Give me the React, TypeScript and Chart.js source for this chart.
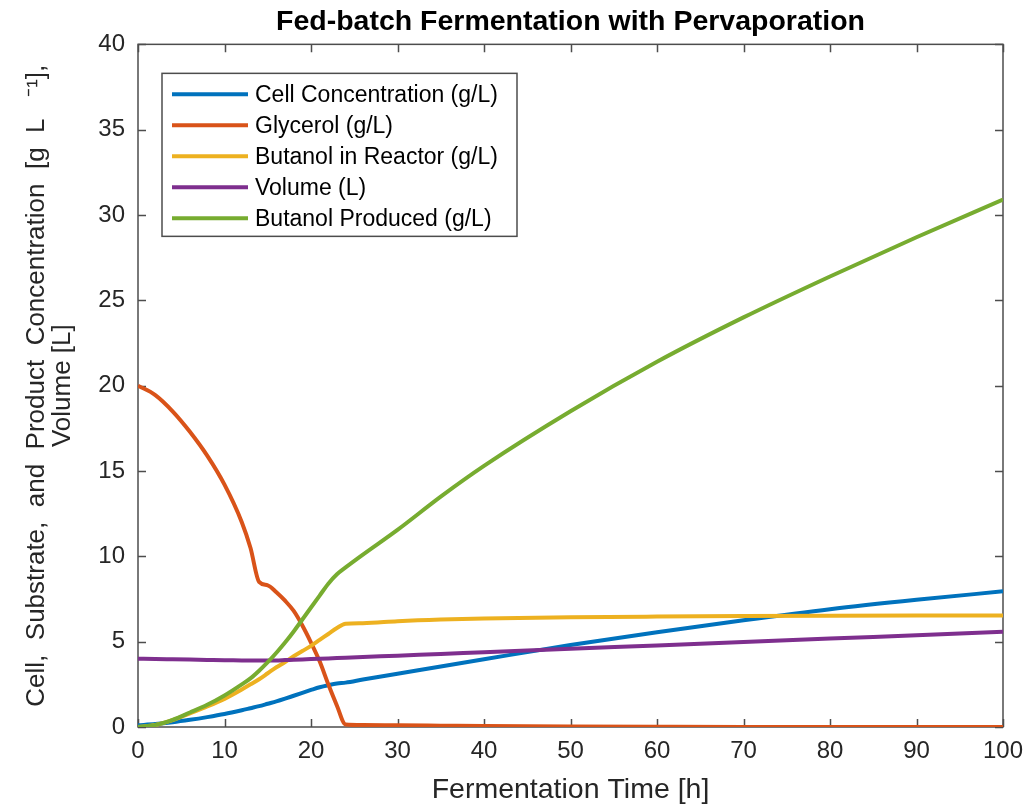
import React, { useEffect, useRef } from "react";
import { Chart, registerables } from "chart.js";

Chart.register(...registerables);

// Sampling times (h)
const hours = [0, 2, 4, 6, 8, 10, 12, 13, 14, 15, 16, 17, 18, 19, 20, 21, 22, 23, 24, 26, 30, 35, 40, 50, 60, 70, 80, 90, 100];

// Cell concentration (g/L)
const cellConc = [0.1, 0.17, 0.28, 0.42, 0.58, 0.76, 0.98, 1.1, 1.22, 1.36, 1.5, 1.66, 1.83, 2.0, 2.17, 2.33, 2.45, 2.55, 2.6, 2.78, 3.12, 3.55, 3.97, 4.8, 5.55, 6.25, 6.9, 7.45, 7.95];

// Glycerol (g/L)
const glycerol = [20.0, 19.45, 18.5, 17.3, 15.9, 14.2, 12.0, 10.5, 8.5, 8.3, 7.9, 7.4, 6.8, 5.95, 4.95, 3.85, 2.5, 1.25, 0.15, 0.12, 0.1, 0.08, 0.06, 0.03, 0.01, 0, 0, 0, 0];

// Butanol in reactor (g/L)
const butanolReactor = [0, 0.12, 0.4, 0.8, 1.2, 1.65, 2.2, 2.5, 2.8, 3.15, 3.5, 3.8, 4.15, 4.45, 4.75, 5.1, 5.45, 5.8, 6.05, 6.08, 6.2, 6.3, 6.36, 6.43, 6.47, 6.5, 6.52, 6.53, 6.54];

// Volume (L)
const volume = [4.0, 3.99, 3.97, 3.95, 3.93, 3.91, 3.9, 3.89, 3.89, 3.89, 3.9, 3.92, 3.94, 3.96, 3.98, 4.0, 4.02, 4.04, 4.06, 4.1, 4.18, 4.28, 4.38, 4.58, 4.78, 4.98, 5.18, 5.38, 5.58];

// Butanol produced (g/L)
const butanolProduced = [0, 0.12, 0.42, 0.85, 1.3, 1.85, 2.5, 2.85, 3.3, 3.8, 4.35, 4.95, 5.6, 6.3, 7.0, 7.7, 8.4, 8.95, 9.35, 10.1, 11.55, 13.5, 15.3, 18.5, 21.4, 24.0, 26.4, 28.7, 30.9];

const seriesLabels = [
  "Cell Concentration (g/L)",
  "Glycerol (g/L)",
  "Butanol in Reactor (g/L)",
  "Volume (L)",
  "Butanol Produced (g/L)",
];
const seriesColors = ["#0072BD", "#D95319", "#EDB120", "#7E2F8E", "#77AC30"];
const seriesValues = [cellConc, glycerol, butanolReactor, volume, butanolProduced];

const xTicks = [0, 10, 20, 30, 40, 50, 60, 70, 80, 90, 100];
const yTicks = [0, 5, 10, 15, 20, 25, 30, 35, 40];

const FONT = "'Liberation Sans', Arial, Helvetica, sans-serif";
const AXIS_COLOR = "#4d4d4d";
const TEXT_COLOR = "#262626";

// Axes box with inward tick marks on all four sides
const boxPlugin = {
  id: "axesBox",
  beforeDatasetsDraw(chart: any) {
    const { ctx, chartArea } = chart;
    const { left, right, top, bottom } = chartArea;
    const xs = chart.scales.x;
    const ys = chart.scales.y;
    const len = 8;
    ctx.save();
    ctx.strokeStyle = AXIS_COLOR;
    ctx.lineWidth = 1.5;
    ctx.beginPath();
    xTicks.forEach((t) => {
      const px = Math.round(xs.getPixelForValue(t)) + 0.5;
      ctx.moveTo(px, bottom);
      ctx.lineTo(px, bottom - len);
      ctx.moveTo(px, top);
      ctx.lineTo(px, top + len);
    });
    yTicks.forEach((v) => {
      const py = Math.round(ys.getPixelForValue(v)) + 0.5;
      ctx.moveTo(left, py);
      ctx.lineTo(left + len, py);
      ctx.moveTo(right, py);
      ctx.lineTo(right - len, py);
    });
    ctx.stroke();
    ctx.strokeRect(left, top, right - left, bottom - top);
    ctx.restore();
  },
};

// Legend drawn inside the upper-left part of the plot
const insideLegend = {
  id: "insideLegend",
  afterDatasetsDraw(chart: any) {
    const { ctx, chartArea } = chart;
    const bx = chartArea.left + 24;
    const by = chartArea.top + 29;
    const bw = 355;
    const bh = 163;
    const rowGap = 31;
    ctx.save();
    ctx.fillStyle = "#ffffff";
    ctx.fillRect(bx, by, bw, bh);
    ctx.strokeStyle = AXIS_COLOR;
    ctx.lineWidth = 1.5;
    ctx.strokeRect(bx, by, bw, bh);
    ctx.font = `23px ${FONT}`;
    ctx.textBaseline = "middle";
    ctx.textAlign = "left";
    chart.data.datasets.forEach((ds: any, i: number) => {
      const y = by + 21 + i * rowGap;
      ctx.strokeStyle = ds.borderColor;
      ctx.lineWidth = 4;
      ctx.beginPath();
      ctx.moveTo(bx + 10, y);
      ctx.lineTo(bx + 86, y);
      ctx.stroke();
      ctx.fillStyle = "#000000";
      ctx.fillText(ds.label, bx + 93, y + 1);
    });
    ctx.restore();
  },
};

export default function App() {
  const canvasRef = useRef<HTMLCanvasElement | null>(null);

  useEffect(() => {
    if (!canvasRef.current) return;
    const chart = new Chart(canvasRef.current, {
      type: "line",
      data: {
        datasets: seriesValues.map((vals, i) => ({
          label: seriesLabels[i],
          data: hours.map((h, k) => ({ x: h, y: vals[k] })),
          borderColor: seriesColors[i],
          backgroundColor: seriesColors[i],
          borderWidth: 4,
          pointRadius: 0,
          cubicInterpolationMode: "monotone" as const,
          fill: false,
          order: seriesValues.length - i,
        })),
      },
      options: {
        animation: false,
        responsive: true,
        maintainAspectRatio: false,
        layout: { padding: { left: 0, right: 26, top: 0, bottom: 0 } },
        plugins: {
          legend: { display: false },
          tooltip: { enabled: false },
          title: {
            display: true,
            text: "Fed-batch Fermentation with Pervaporation",
            fullSize: false,
            color: "#000000",
            font: { family: FONT, size: 28.5, weight: "bold", lineHeight: 1.1 },
            padding: { top: 6, bottom: 7 },
          },
        },
        scales: {
          x: {
            type: "linear",
            min: 0,
            max: 100,
            afterFit: (scale: any) => {
              scale.height = 80;
              scale.paddingRight = 0;
              scale.paddingLeft = 0;
            },
            afterBuildTicks: (scale: any) => {
              scale.ticks = xTicks.map((v) => ({ value: v }));
            },
            grid: { display: false, drawTicks: false },
            border: { display: false },
            ticks: {
              color: TEXT_COLOR,
              font: { family: FONT, size: 24 },
              padding: 10,
              maxRotation: 0,
              autoSkip: false,
            },
            title: {
              display: true,
              text: "Fermentation Time [h]",
              color: TEXT_COLOR,
              font: { family: FONT, size: 28.5, lineHeight: 1.15 },
              padding: { top: 0, bottom: 0 },
            },
          },
          y: {
            type: "linear",
            min: 0,
            max: 40,
            afterFit: (scale: any) => {
              scale.width = 138;
            },
            afterBuildTicks: (scale: any) => {
              scale.ticks = yTicks.map((v) => ({ value: v }));
            },
            grid: { display: false, drawTicks: false },
            border: { display: false },
            ticks: {
              color: TEXT_COLOR,
              font: { family: FONT, size: 24 },
              padding: 13,
              autoSkip: false,
            },
            title: {
              display: true,
              text: [
                "Cell,  Substrate,  and  Product  Concentration  [g  L   \u207B\u00B9],",
                "Volume [L]",
              ],
              color: TEXT_COLOR,
              font: { family: FONT, size: 26, lineHeight: 1.0 },
              padding: { top: 24, bottom: 0 },
            },
          },
        },
      },
      plugins: [boxPlugin, insideLegend],
    });
    return () => chart.destroy();
  }, []);

  return (
    <div style={{ position: "absolute", left: 0, top: 0, width: 1029, height: 807, background: "#ffffff" }}>
      <canvas ref={canvasRef} style={{ display: "block" }} />
    </div>
  );
}
